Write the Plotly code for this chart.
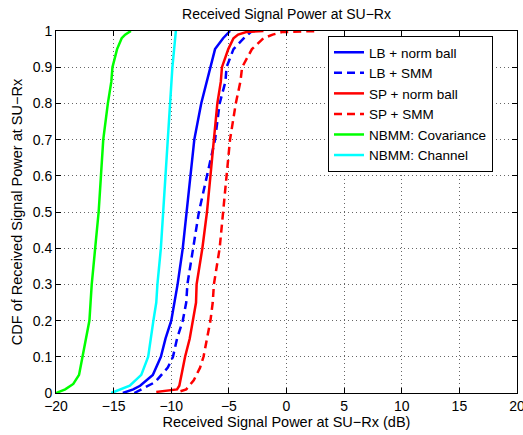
import plotly.graph_objects as go

# ---- data ----
lb_norm_x = [-14.2, -13.3, -12.7, -11.6, -10.9, -10.5, -10.0, -9.7, -9.45, -9.0, -8.65, -8.3, -8.0, -7.4, -6.9, -6.6, -6.2, -5.5, -5.2, -4.9]
lb_norm_y = [0.0, 0.01, 0.02, 0.05, 0.1, 0.15, 0.2, 0.25, 0.3, 0.4, 0.5, 0.6, 0.7, 0.8, 0.86, 0.9, 0.95, 0.98, 0.99, 1.0]

lb_smm_x = [-13.2, -12.5, -11.4, -10.3, -9.85, -9.5, -9.0, -8.7, -8.6, -8.1, -7.6, -6.9, -6.2, -5.8, -5.3, -5.2, -4.6, -3.7, -3.3, -3.0]
lb_smm_y = [0.0, 0.012, 0.03, 0.07, 0.1, 0.15, 0.2, 0.25, 0.3, 0.4, 0.5, 0.6, 0.7, 0.8, 0.86, 0.9, 0.95, 0.98, 0.99, 1.0]

sp_norm_x = [-11.3, -10.0, -9.5, -9.3, -9.1, -8.8, -8.4, -8.1, -7.85, -7.8, -7.3, -6.9, -6.6, -6.3, -6.0, -5.7, -5.6, -5.05, -4.6, -4.2, -3.5, -2.0]
sp_norm_y = [0.003, 0.008, 0.01, 0.02, 0.05, 0.1, 0.15, 0.2, 0.25, 0.3, 0.4, 0.5, 0.6, 0.7, 0.8, 0.86, 0.9, 0.95, 0.98, 0.99, 0.997, 1.0]

sp_smm_x = [-9.2, -8.7, -8.05, -7.5, -7.2, -6.9, -6.6, -6.4, -6.3, -5.8, -5.5, -5.2, -4.9, -4.4, -4.0, -3.85, -3.0, -2.0, -1.2, -0.4, 2.8]
sp_smm_y = [0.005, 0.01, 0.035, 0.07, 0.1, 0.15, 0.2, 0.25, 0.3, 0.4, 0.5, 0.6, 0.7, 0.8, 0.86, 0.9, 0.95, 0.98, 0.99, 0.997, 1.0]

nb_cov_x = [-20.0, -19.2, -18.5, -18.0, -17.7, -17.4, -17.1, -17.0, -16.9, -16.6, -16.3, -16.1, -15.9, -15.5, -15.2, -15.1, -14.7, -14.3, -14.0, -13.5]
nb_cov_y = [0.0, 0.01, 0.025, 0.05, 0.1, 0.15, 0.2, 0.25, 0.3, 0.4, 0.5, 0.6, 0.7, 0.8, 0.86, 0.9, 0.95, 0.98, 0.99, 1.0]

nb_ch_x = [-15.2, -14.4, -13.6, -12.6, -12.0, -11.55, -11.3, -11.2, -10.9, -10.7, -10.5, -10.3, -10.1, -10.0, -9.9, -9.75, -9.65, -9.6]
nb_ch_y = [0.0, 0.01, 0.02, 0.05, 0.1, 0.2, 0.25, 0.3, 0.4, 0.5, 0.6, 0.7, 0.8, 0.86, 0.9, 0.95, 0.98, 1.0]

x_ticks = [-20, -15, -10, -5, 0, 5, 10, 15, 20]
y_ticks = [0, 0.1, 0.2, 0.3, 0.4, 0.5, 0.6, 0.7, 0.8, 0.9, 1]

series = [
    ("LB + norm ball", lb_norm_x, lb_norm_y, "#0000ff", "solid"),
    ("LB + SMM", lb_smm_x, lb_smm_y, "#0000ff", "8px,5px"),
    ("SP + norm ball", sp_norm_x, sp_norm_y, "#ff0000", "solid"),
    ("SP + SMM", sp_smm_x, sp_smm_y, "#ff0000", "8px,5px"),
    ("NBMM: Covariance", nb_cov_x, nb_cov_y, "#00ff00", "solid"),
    ("NBMM: Channel", nb_ch_x, nb_ch_y, "#00ffff", "solid"),
]

FONT = "Liberation Sans, Arial, sans-serif"

fig = go.Figure()
for name, xs, ys, col, dash in series:
    fig.add_trace(go.Scatter(x=xs, y=ys, mode="lines", name=name,
                             line=dict(color=col, width=2.5, dash=dash)))

axis_common = dict(
    showline=True, linecolor="black", linewidth=1, mirror="ticks",
    ticks="inside", ticklen=5, tickcolor="black",
    showgrid=True, gridcolor="#666666", griddash="1px,3px", gridwidth=1,
    zeroline=False, tickfont=dict(family=FONT, size=14, color="black"),
    ticklabeloverflow="allow",
)

fig.update_layout(
    width=523, height=435,
    margin=dict(l=56, r=6, t=31, b=42),
    paper_bgcolor="white", plot_bgcolor="white",
    font=dict(family=FONT, size=14, color="black"),
    title=dict(text="Received Signal Power at SU\u2212Rx", x=(56 + 517) / 2 / 523, xanchor="center",
               y=1 - 14 / 435, yanchor="middle", yref="container",
               font=dict(family=FONT, size=14, color="black")),
    xaxis=dict(range=[-20, 20], tickvals=x_ticks, automargin=False,
               title=dict(text="Received Signal Power at SU\u2212Rx (dB)", standoff=2,
                          font=dict(family=FONT, size=14.5)),
               **axis_common),
    yaxis=dict(range=[0, 1], tickvals=y_ticks, automargin=False,
               title=dict(text="CDF of Received Signal Power at SU\u2212Rx", standoff=6,
                          font=dict(family=FONT, size=14.5)),
               **axis_common),
    legend=dict(x=(328 - 56) / 461, y=(393 - 36) / 362, xanchor="left", yanchor="top",
                bgcolor="white", bordercolor="black", borderwidth=1,
                font=dict(family=FONT, size=13.5, color="black"),
                tracegroupgap=0, entrywidth=172, entrywidthmode="pixels"),
    showlegend=True,
)

fig.write_html("out.html")
